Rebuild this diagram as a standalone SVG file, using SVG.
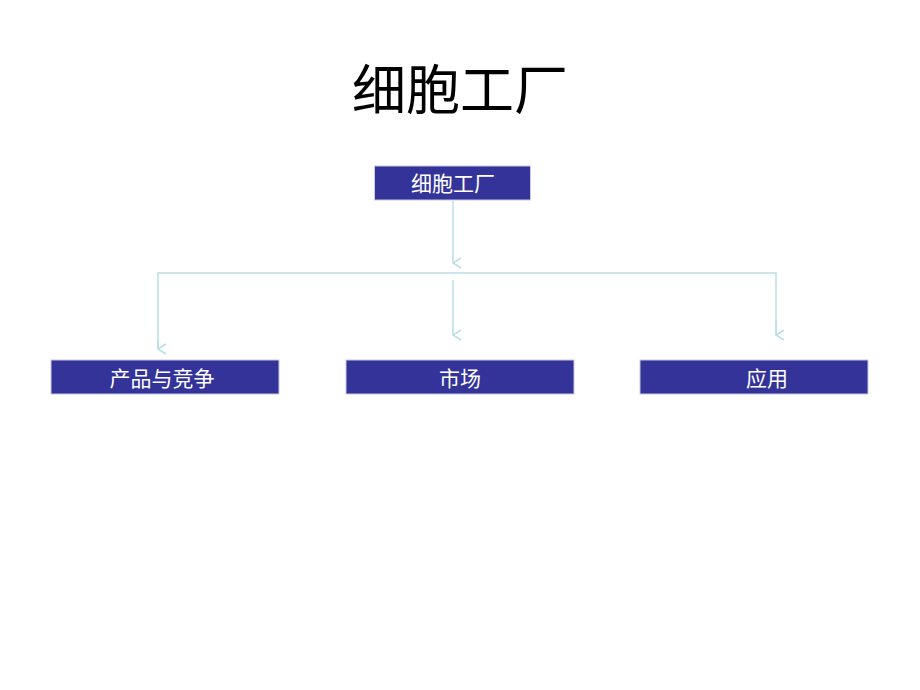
<svg xmlns="http://www.w3.org/2000/svg" width="920" height="690" viewBox="0 0 920 690">
<style>
.box{fill:#333399;stroke:#c8c8e0;stroke-width:1}
.lbl{font-family:"Liberation Sans","Noto Sans CJK SC",sans-serif;font-size:21px;fill:#fff;text-anchor:middle}
.c{stroke:#b8dfe2;stroke-width:1.5;fill:none}
</style>
<defs><marker id="a" viewBox="0 0 12 10" refX="6" refY="9" markerWidth="12" markerHeight="10" markerUnits="userSpaceOnUse" orient="auto-start-reverse"><path d="M1,1 L6,9 L11,1" fill="none" stroke="#b8dfe2" stroke-width="1.5"/></marker></defs>
<rect width="920" height="690" fill="#fff"/>
<text x="460" y="110" font-family="'Liberation Serif','Noto Sans CJK SC',serif" font-size="54" text-anchor="middle" fill="#000">细胞工厂</text>
<g id="connectors">
<line class="c" x1="453" y1="201" x2="453" y2="263" marker-end="url(#a)"/>
<polyline class="c" points="158,349 158,273 776,273 776,335"/>
<line class="c" x1="158" y1="340" x2="158" y2="349" marker-end="url(#a)"/>
<line class="c" x1="776" y1="320" x2="776" y2="335" marker-end="url(#a)"/>
<line class="c" x1="453" y1="280" x2="453" y2="335" marker-end="url(#a)"/>
</g>
<g id="n0"><rect class="box" x="374.5" y="166" width="156" height="34"/><text class="lbl" x="453" y="191">细胞工厂</text></g>
<g id="n1"><rect class="box" x="51" y="360" width="228" height="34"/><text class="lbl" x="162" y="386">产品与竞争</text></g>
<g id="n2"><rect class="box" x="346" y="360" width="228" height="34"/><text class="lbl" x="460" y="386">市场</text></g>
<g id="n3"><rect class="box" x="640" y="360" width="228" height="34"/><text class="lbl" x="767" y="386">应用</text></g>
</svg>
